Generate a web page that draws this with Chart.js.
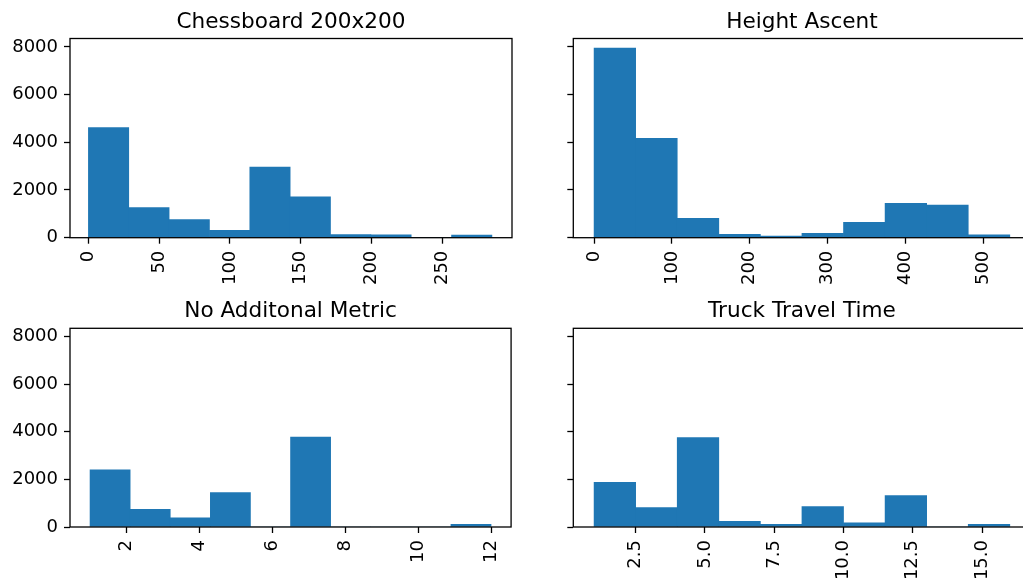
<!DOCTYPE html>
<html>
<head>
<meta charset="utf-8">
<script src="https://cdn.jsdelivr.net/npm/chart.js@4.4.0/dist/chart.umd.min.js"></script>
<style>
  html, body { margin: 0; padding: 0; background: #fff; overflow: hidden; }
  #page { position: relative; width: 1023px; height: 584px; overflow: hidden; background: #fff; }
  #page canvas { position: absolute; }
</style>
</head>
<body>
<div id="page">
  <canvas id="chess" width="520" height="290" style="left:0;top:0"></canvas>
  <canvas id="height" width="510" height="290" style="left:530px;top:0"></canvas>
  <canvas id="nometric" width="520" height="294" style="left:0;top:290px"></canvas>
  <canvas id="truck" width="510" height="294" style="left:530px;top:290px"></canvas>
</div>
<script>
// shared y axis
const yMax = 8350;
const yTickLabels = ['0', '2000', '4000', '6000', '8000'];

// bin edges (10 bins each) and counts per bin
const chessEdges = [0, 28.5, 57, 85.5, 114, 142.5, 171, 199.5, 228, 256.5, 285];
const chessCounts = [4620, 1260, 755, 310, 2965, 1710, 130, 125, 0, 115];
const chessTicks = ['0', '50', '100', '150', '200', '250'];

const heightEdges = [0, 53.4, 106.8, 160.2, 213.6, 267, 320.4, 373.8, 427.2, 480.6, 534];
const heightCounts = [7950, 4170, 815, 140, 70, 185, 645, 1445, 1370, 125];
const heightTicks = ['0', '100', '200', '300', '400', '500'];

const noMetricEdges = [1, 2.1, 3.2, 4.3, 5.4, 6.5, 7.6, 8.7, 9.8, 10.9, 12];
const noMetricCounts = [2400, 745, 390, 1445, 0, 3780, 0, 0, 0, 115];
const noMetricTicks = ['2', '4', '6', '8', '10', '12'];

const truckEdges = [1, 2.5, 4, 5.5, 7, 8.5, 10, 11.5, 13, 14.5, 16];
const truckCounts = [1880, 815, 3760, 240, 115, 855, 180, 1320, 0, 115];
const truckTicks = ['2.5', '5.0', '7.5', '10.0', '12.5', '15.0'];

const BLUE = '#1f77b4';
const FONT = 'DejaVu Sans';

// box around the plot area + title above it
const panelFrame = {
  id: 'panelFrame',
  afterDatasetsDraw(chart, args, opts) {
    const { ctx, chartArea: a } = chart;
    ctx.save();
    ctx.strokeStyle = '#000';
    ctx.lineWidth = 1.3;
    ctx.strokeRect(a.left, a.top, a.right - a.left, a.bottom - a.top);
    ctx.fillStyle = '#000';
    ctx.font = '21.6px "' + FONT + '"';
    ctx.textAlign = 'center';
    ctx.textBaseline = 'alphabetic';
    ctx.fillText(opts.title, (a.left + a.right) / 2, a.top - 11);
    ctx.restore();
  }
};

function drawHist(id, title, edges, counts, tickLabels, box) {
  const last = edges.length - 1;
  const pad = (edges[last] - edges[0]) * 0.05;
  const points = counts.map((c, i) => ({ x: (edges[i] + edges[i + 1]) / 2, y: c }));
  const xMin = box.xMin !== undefined ? box.xMin : edges[0] - pad;
  const xMax = box.xMax !== undefined ? box.xMax : edges[last] + pad;

  new Chart(document.getElementById(id), {
    type: 'bar',
    data: {
      datasets: [{
        data: points,
        backgroundColor: BLUE,
        borderWidth: 0,
        barPercentage: 1,
        categoryPercentage: 1
      }]
    },
    options: {
      responsive: false,
      maintainAspectRatio: false,
      animation: false,
      devicePixelRatio: 1,
      layout: { padding: { top: box.top, right: box.right, left: 0, bottom: 0 } },
      plugins: {
        legend: { display: false },
        tooltip: { enabled: false },
        panelFrame: { title: title }
      },
      scales: {
        x: {
          type: 'linear',
          offset: false,
          min: xMin,
          max: xMax,
          afterBuildTicks: ax => { ax.ticks = tickLabels.map(t => ({ value: parseFloat(t) })); },
          afterFit: ax => { ax.height = box.xh; },
          ticks: {
            minRotation: 90,
            maxRotation: 90,
            autoSkip: false,
            padding: 7,
            color: '#000',
            font: { family: FONT, size: 18 },
            callback: (v, i) => tickLabels[i]
          },
          grid: { drawOnChartArea: false, offset: false, tickLength: 6, tickWidth: 1.3, color: '#000' },
          border: { display: false }
        },
        y: {
          min: 0,
          max: yMax,
          afterBuildTicks: ax => { ax.ticks = yTickLabels.map(t => ({ value: parseFloat(t) })); },
          afterFit: ax => { ax.width = box.yw; },
          ticks: {
            display: box.showY,
            padding: 6,
            color: '#000',
            font: { family: FONT, size: 18 },
            callback: (v, i) => yTickLabels[i]
          },
          grid: { drawOnChartArea: false, tickLength: 6, tickWidth: 1.3, color: '#000' },
          border: { display: false }
        }
      }
    },
    plugins: [panelFrame]
  });
}

drawHist('chess', 'Chessboard 200x200', chessEdges, chessCounts, chessTicks,
  { top: 38.5, right: 8, yw: 70, xh: 52.3, showY: true, xMin: -13, xMax: 299.2 });
drawHist('height', 'Height Ascent', heightEdges, heightCounts, heightTicks,
  { top: 38.5, right: 9.4, yw: 43.3, xh: 52.3, showY: false });
drawHist('nometric', 'No Additonal Metric', noMetricEdges, noMetricCounts, noMetricTicks,
  { top: 38.3, right: 8, yw: 70, xh: 57, showY: true });
drawHist('truck', 'Truck Travel Time', truckEdges, truckCounts, truckTicks,
  { top: 38.3, right: 9.4, yw: 43.3, xh: 57, showY: false });
</script>
</body>
</html>
